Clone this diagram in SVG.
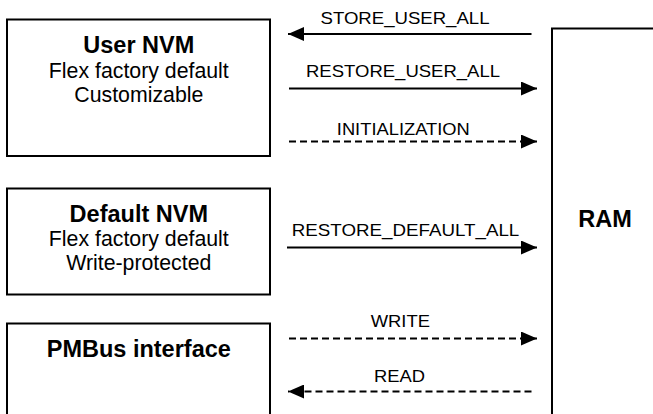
<svg xmlns="http://www.w3.org/2000/svg" width="653" height="414" viewBox="0 0 653 414">
<style>
.box{fill:#fff;stroke:#000;stroke-width:2}
.t{font-family:"Liberation Sans",Arial,sans-serif;fill:#000;text-anchor:middle}
.b{font-weight:bold;font-size:23.5px}
.r{font-size:21.3px}
.l{font-size:17px}
.ln{stroke:#000;stroke-width:2;fill:none}
.d{stroke-dasharray:7 4}
</style>
<defs>
<marker id="ah" viewBox="0 0 16 14" refX="16" refY="7" markerWidth="16" markerHeight="14" markerUnits="userSpaceOnUse" orient="auto">
<path d="M0,0 L16,7 L0,14 Z" fill="#000"/>
</marker>
</defs>
<rect width="653" height="414" fill="#fff"/>
<g id="user-nvm">
<rect class="box" x="7" y="19.5" width="263" height="136.5"/>
<text class="t b" x="138.8" y="53">User NVM</text>
<text class="t r" x="138.8" y="78">Flex factory default</text>
<text class="t r" x="138.8" y="101.5">Customizable</text>
</g>
<g id="default-nvm">
<rect class="box" x="7" y="188.5" width="263" height="106"/>
<text class="t b" x="138.8" y="221.5">Default NVM</text>
<text class="t r" x="138.8" y="246">Flex factory default</text>
<text class="t r" x="138.8" y="270">Write-protected</text>
</g>
<g id="pmbus">
<rect class="box" x="7" y="323.5" width="263" height="100"/>
<text class="t b" x="138.8" y="356.5">PMBus interface</text>
</g>
<g id="ram">
<rect class="box" x="552" y="28.5" width="120" height="400"/>
<text class="t b" x="605" y="226.5">RAM</text>
</g>
<g id="connectors">
<line class="ln" x1="531.5" y1="34" x2="288" y2="34" marker-end="url(#ah)"/>
<text class="t l" x="405" y="24" textLength="169" lengthAdjust="spacingAndGlyphs">STORE_USER_ALL</text>
<line class="ln" x1="289" y1="88.5" x2="537" y2="88.5" marker-end="url(#ah)"/>
<text class="t l" x="403" y="76.7" textLength="194" lengthAdjust="spacingAndGlyphs">RESTORE_USER_ALL</text>
<line class="ln d" x1="289" y1="141.5" x2="537" y2="141.5" marker-end="url(#ah)"/>
<text class="t l" x="403.3" y="135" textLength="133" lengthAdjust="spacingAndGlyphs">INITIALIZATION</text>
<line class="ln" x1="287" y1="247.5" x2="537" y2="247.5" marker-end="url(#ah)"/>
<text class="t l" x="405.5" y="236" textLength="227.5" lengthAdjust="spacingAndGlyphs">RESTORE_DEFAULT_ALL</text>
<line class="ln d" x1="289" y1="338.5" x2="537" y2="338.5" marker-end="url(#ah)"/>
<text class="t l" x="400.3" y="326.7" textLength="59.3" lengthAdjust="spacingAndGlyphs">WRITE</text>
<line class="ln d" x1="531.5" y1="391.5" x2="288" y2="391.5" marker-end="url(#ah)"/>
<text class="t l" x="399.5" y="381.7" textLength="51" lengthAdjust="spacingAndGlyphs">READ</text>
</g>
</svg>
